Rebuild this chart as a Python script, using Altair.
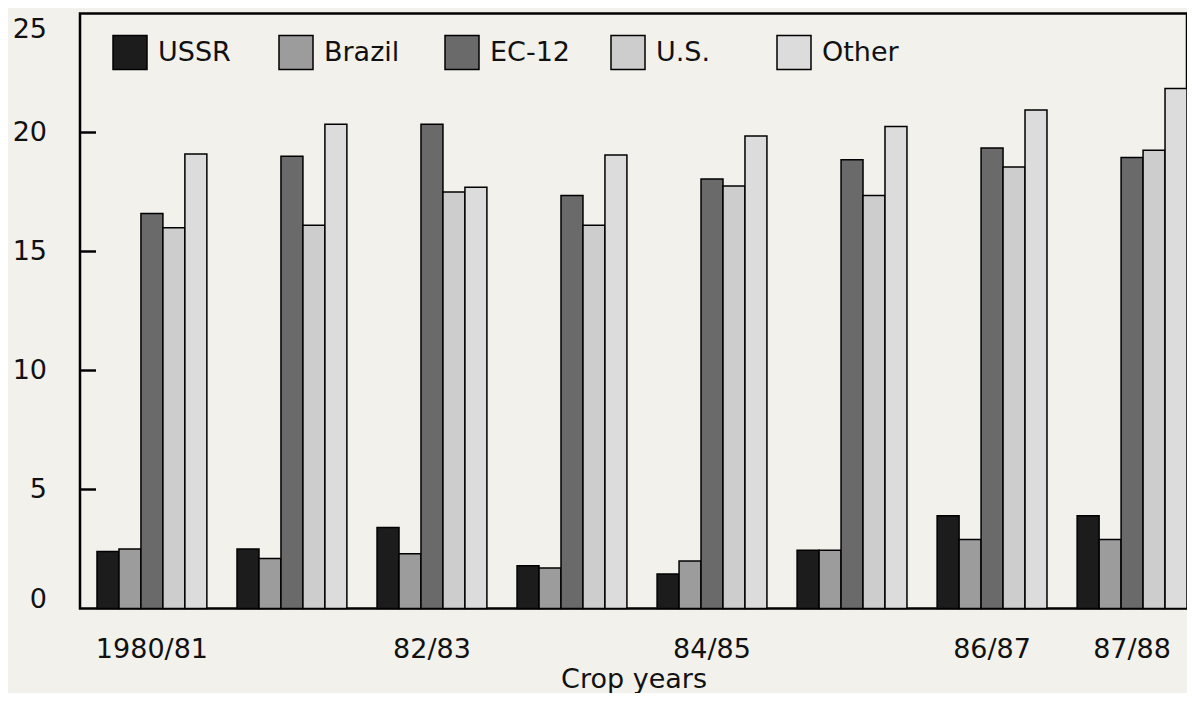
import altair as alt
import pandas as pd

years = ["1980/81", "81/82", "82/83", "83/84", "84/85", "85/86", "86/87", "87/88"]
labeled_years = ["1980/81", "82/83", "84/85", "86/87", "87/88"]
regions = ["USSR", "Brazil", "EC-12", "U.S.", "Other"]

ussr = [2.4, 2.5, 3.4, 1.8, 1.45, 2.45, 3.9, 3.9]
brazil = [2.5, 2.1, 2.3, 1.7, 2.0, 2.45, 2.9, 2.9]
ec12 = [16.6, 19.0, 20.35, 17.35, 18.05, 18.85, 19.35, 18.95]
us = [16.0, 16.1, 17.5, 16.1, 17.75, 17.35, 18.55, 19.25]
other = [19.1, 20.35, 17.7, 19.05, 19.85, 20.25, 20.95, 21.85]

colors = ["#1c1c1c", "#9c9c9c", "#6a6a6a", "#cdcdcd", "#dcdcdc"]
y_ticks_inside = [5, 10, 15, 20]
y_labels_mid = [5, 10, 15, 20]
y_label_bottom = [0]
y_label_top = [25]

series = {"USSR": ussr, "Brazil": brazil, "EC-12": ec12, "U.S.": us, "Other": other}
rows = []
for r in regions:
    for yr, v in zip(years, series[r]):
        rows.append({"year": yr, "region": r, "value": v})
df = pd.DataFrame(rows)
ticks_df = pd.DataFrame({"tick": y_ticks_inside})

FONT = "DejaVu Sans"
y_scale = alt.Scale(domain=[0, 25], nice=False)

x_enc = alt.X(
    "year:N",
    sort=years,
    scale=alt.Scale(paddingInner=0.2154, paddingOuter=0.0607, align=1),
    axis=alt.Axis(
        values=labeled_years,
        title="Crop years",
        labelAngle=0,
        labelFontSize=27,
        labelFont=FONT,
        labelColor="#111111",
        labelPadding=28,
        tickSize=0,
        domain=False,
        titleFontSize=27,
        titleFont=FONT,
        titleFontWeight="normal",
        titleColor="#111111",
        titlePadding=4,
    ),
)

bars = alt.Chart(df).mark_bar(stroke="black", strokeWidth=1.5, opacity=1).encode(
    x=x_enc,
    xOffset=alt.XOffset("region:N", sort=regions, scale=alt.Scale(paddingInner=0, paddingOuter=0)),
    y=alt.Y("value:Q", scale=y_scale, axis=None),
    color=alt.Color(
        "region:N",
        sort=regions,
        scale=alt.Scale(domain=regions, range=colors),
        legend=alt.Legend(
            orient="none",
            legendX=32,
            legendY=21,
            direction="horizontal",
            columns=5,
            gridAlign="all",
            columnPadding=37,
            title=None,
            symbolType="square",
            symbolSize=1156,
            symbolStrokeColor="black",
            symbolStrokeWidth=1.5,
            symbolOpacity=1,
            labelFontSize=27,
            labelFont=FONT,
            labelColor="#111111",
            labelOffset=10,
            padding=0,
        ),
    ),
)

# inward tick marks drawn as thin bars (rules were not showing up)
tick_bars = (
    alt.Chart(ticks_df)
    .transform_calculate(lo="datum.tick - 0.04", hi="datum.tick + 0.04")
    .mark_bar(color="#000000", opacity=1)
    .encode(
        y=alt.Y("lo:Q", scale=y_scale, axis=None),
        y2=alt.Y2("hi:Q"),
        x=alt.value(0),
        x2=alt.value(16),
    )
)

tick_rules = alt.Chart(ticks_df).mark_rule(color="#000000", strokeWidth=2, opacity=1).encode(
    y=alt.Y("tick:Q", scale=y_scale, axis=None),
    x=alt.value(0),
    x2=alt.value(16),
)


def y_label_layer(values, baseline, dy):
    d = pd.DataFrame({"lab": values})
    return alt.Chart(d).mark_text(
        align="right", baseline=baseline, dy=dy, fontSize=27, font=FONT, color="#111111"
    ).encode(
        y=alt.Y("lab:Q", scale=y_scale, axis=None),
        x=alt.value(-33),
        text=alt.Text("lab:Q"),
    )


labels_mid = y_label_layer(y_labels_mid, "middle", 0)
labels_bottom = y_label_layer(y_label_bottom, "alphabetic", -1)
labels_top = y_label_layer(y_label_top, "top", 3)

chart = (
    alt.layer(bars, tick_bars, tick_rules, labels_mid, labels_bottom, labels_top)
    .properties(
        width=1107,
        height=595,
        autosize=alt.AutoSizeParams(type="none"),
        padding={"left": 72, "top": 5.5, "right": 0, "bottom": 84},
        background="#f2f1ec",
    )
    .configure_view(stroke="black", strokeWidth=2.5)
)

chart.save("out.html", embed_options={"renderer": "svg", "actions": False})
